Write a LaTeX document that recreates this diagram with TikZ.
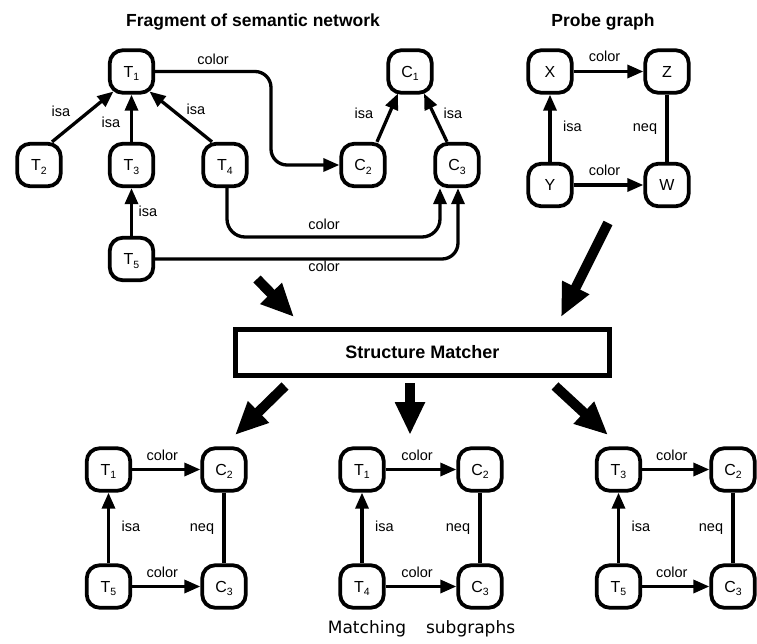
\documentclass[tikz,border=0pt]{standalone}
\usepackage{fontspec}
\setmainfont{Liberation Sans}
\newfontfamily\capfont{DejaVu Sans}
\usetikzlibrary{arrows.meta,calc}

% lowered index that does not change the height of the node text
\newcommand\nsub[1]{\raisebox{-3.5pt}[0pt][0pt]{\fontsize{10.5}{10.5}\selectfont#1}}

\tikzset{
  gnode/.style={draw, line width=3.8pt, rounded corners=13pt, minimum width=43.5pt,
    minimum height=42.5pt, inner sep=0pt, font=\fontsize{16}{16}\selectfont},
  link/.style={line width=3.3pt, -{Triangle[length=16pt,width=13pt]}},
  bond/.style={line width=3.3pt},
  lbl/.style={font=\fontsize{14.5}{14.5}\selectfont, inner sep=0pt, anchor=base},
  heading/.style={font=\bfseries\fontsize{17.5}{17.5}\selectfont, inner sep=0pt, anchor=base},
  bigarrow/.style={line width=10pt, -{Triangle[length=33pt,width=28pt]}},
}

% square graph: #1 prefix, (#2,#3) top-left node, #4 column gap, #5 row gap,
% #6..#9 texts of top-left, top-right, bottom-left, bottom-right nodes
\newcommand\sqgraph[9]{%
  \begin{scope}[shift={(#2,#3)}]
    \node[gnode] (#1tl) at (0,0) {#6};
    \node[gnode] (#1tr) at (#4,0) {#7};
    \node[gnode] (#1bl) at (0,#5) {#8};
    \node[gnode] (#1br) at (#4,#5) {#9};
    \draw[link] (#1tl) -- node[lbl, yshift=9.5pt, xshift=-4pt] (#1ct) {color} (#1tr);
    \draw[link] (#1bl) -- node[lbl, yshift=9.5pt, xshift=-4pt] (#1cb) {color} (#1br);
    \draw[link] (#1bl) -- node[lbl, xshift=22.5pt, yshift=-3pt] (#1ci) {isa} (#1tl);
    \draw[bond] (#1tr) -- node[lbl, xshift=-22pt, yshift=-3pt] (#1cn) {neq} (#1br);
  \end{scope}}

\begin{document}
\begin{tikzpicture}[x=1pt, y=-1pt]
  \fill[white] (0,0) rectangle (757,644);
  \useasboundingbox (0,0) rectangle (757,644);

  % headings
  \node[heading] (h1) at (253,26.7) {Fragment of semantic network};
  \node[heading] (h2) at (603,26.7) {Probe graph};

  % fragment of the semantic network
  \node[gnode] (T1) at (131.5,71.5) {T\nsub1};
  \node[gnode] (T2) at (39,165) {T\nsub2};
  \node[gnode] (T3) at (131.5,165) {T\nsub3};
  \node[gnode] (T4) at (225,165) {T\nsub4};
  \node[gnode] (T5) at (131.5,259) {T\nsub5};
  \node[gnode] (C1) at (410,71.5) {C\nsub1};
  \node[gnode] (C2) at (363,165) {C\nsub2};
  \node[gnode] (C3) at (457,165) {C\nsub3};

  \draw[link] ([xshift=13pt]T2.north) -- ([shift={(-18,20)}]T1.center);
  \draw[link] (T3) -- (T1);
  \draw[link] ([xshift=-13pt]T4.north) -- ([shift={(18,20)}]T1.center);
  \draw[link] (T5) -- (T3);
  \draw[link] ([xshift=14pt]C2.north) -- ([shift={(-12,22)}]C1.center);
  \draw[link] ([xshift=-10pt]C3.north) -- ([shift={(14,22)}]C1.center);

  \coordinate (k1) at (271,0);
  \coordinate (k2) at (0,237);
  \coordinate (t4out) at ([xshift=2pt]T4.south);
  \coordinate (c3in) at ([xshift=-17pt]C3.south);
  \coordinate (c3in2) at ([xshift=1pt]C3.south);
  \draw[link, rounded corners=16pt] (T1.east) -- (T1.east -| k1) -- (k1 |- C2.west) -- (C2.west);
  \draw[link, rounded corners=18pt] (t4out) -- (t4out |- k2) -- (c3in |- k2) -- (c3in);
  \draw[link, rounded corners=16pt] (T5.east) -- (T5.east -| c3in2) -- (c3in2);

  \node[lbl] (n1) at (213,65) {color};
  \node[lbl] (n2) at (61,116.7) {isa};
  \node[lbl] (n3) at (111,128) {isa};
  \node[lbl] (n4) at (196,115) {isa};
  \node[lbl] (n5) at (364,119) {isa};
  \node[lbl] (n6) at (453,119) {isa};
  \node[lbl] (n7) at (148,216.7) {isa};
  \node[lbl] (n8) at (324,230) {color};
  \node[lbl] (n9) at (324,271.7) {color};

  % probe graph
  \sqgraph{p}{550}{71.5}{117}{113.5}{X}{Z}{Y}{W}

  % matcher
  \node[draw, line width=4.8pt, minimum width=374pt, minimum height=46pt, inner sep=0pt,
        font=\bfseries\fontsize{18}{18}\selectfont] (SM) at (422.5,352.5) {Structure Matcher};

  \coordinate (a1s) at (257,279);  \coordinate (a1e) at (294,317);
  \coordinate (a2s) at (608,223);  \coordinate (a2e) at (561,317);
  \coordinate (a3s) at (285,386);  \coordinate (a3e) at (235,435);
  \coordinate (a4s) at (410,383);  \coordinate (a4e) at (410,435);
  \coordinate (a5s) at (555,386);  \coordinate (a5e) at (608,435);
  \draw[bigarrow] (a1s) -- (a1e);
  \draw[bigarrow] (a2s) -- (a2e);
  \draw[bigarrow] (a3s) -- (a3e);
  \draw[bigarrow] (a4s) -- (a4e);
  \draw[bigarrow] (a5s) -- (a5e);

  % matching subgraphs
  \sqgraph{a}{108.5}{469.5}{115.5}{117}{T\nsub1}{C\nsub2}{T\nsub5}{C\nsub3}
  \sqgraph{b}{362}{469.5}{118}{117}{T\nsub1}{C\nsub2}{T\nsub4}{C\nsub3}
  \sqgraph{c}{618.5}{469.5}{114.5}{117}{T\nsub3}{C\nsub2}{T\nsub5}{C\nsub3}

  \node[font=\capfont\fontsize{17}{17}\selectfont, anchor=base, inner sep=0pt] (cap)
       at (421.5,633) {Matching\hspace{20pt}subgraphs};
\end{tikzpicture}
\end{document}
